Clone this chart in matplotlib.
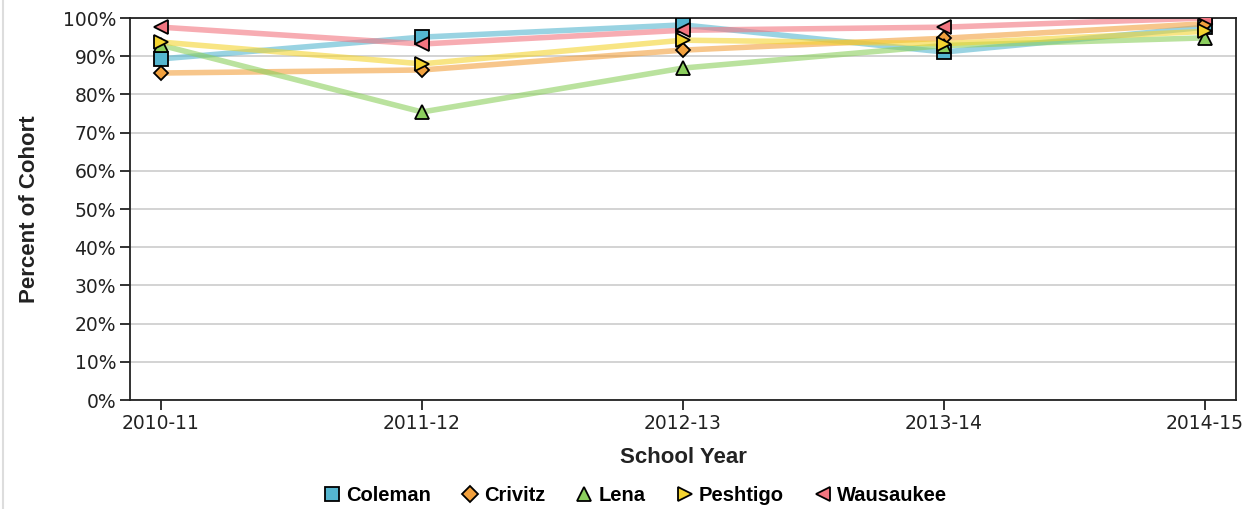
import matplotlib.pyplot as plt
from matplotlib.ticker import FuncFormatter

# data
years = ['2010-11', '2011-12', '2012-13', '2013-14', '2014-15']
coleman = [89.3, 95.0, 98.2, 91.1, 97.6]
crivitz = [85.6, 86.4, 91.6, 94.7, 98.5]
lena = [92.9, 75.4, 86.9, 92.8, 94.8]
peshtigo = [93.7, 88.0, 94.2, 93.3, 96.5]
wausaukee = [97.6, 93.2, 96.8, 97.6, 100.0]

series = [
    ('Coleman', coleman, '#55b6d0', 's'),
    ('Crivitz', crivitz, '#f2a13e', 'D'),
    ('Lena', lena, '#8ccf5e', '^'),
    ('Peshtigo', peshtigo, '#f4d430', '>'),
    ('Wausaukee', wausaukee, '#f27580', '<'),
]

fig = plt.figure(figsize=(12.51, 5.09), dpi=100)
ax = fig.add_axes([0.1039, 0.2141, 0.8841, 0.7505])

x = list(range(len(years)))
for name, vals, col, mk in series:
    ax.plot(x, vals, color=col, alpha=0.6, lw=4, zorder=2)
for name, vals, col, mk in series:
    ms = 7.5 if mk == 'D' else 9.5
    ax.plot(x, vals, ls='none', marker=mk, ms=ms, mfc=col, mec='black',
            mew=1.3, zorder=3, label=name)

ax.set_xlim(-0.119, 4.119)
ax.set_ylim(0, 100)
ax.set_yticks(range(0, 101, 10))
ax.yaxis.set_major_formatter(FuncFormatter(lambda v, p: f'{v:.0f}%'))
ax.set_xticks(x)
ax.set_xticklabels(years)
ax.grid(axis='y', color='#cccccc', lw=1.2, zorder=0)
ax.set_axisbelow(True)
for s in ax.spines.values():
    s.set_color('#222222')
    s.set_linewidth(1.3)
ax.tick_params(axis='both', length=7, width=1.3, color='#222222',
               labelsize=13.5, labelcolor='#222222', pad=3)

ax.set_xlabel('School Year', fontsize=16, fontweight='bold',
              family='Liberation Sans', color='#222222', labelpad=10)
ax.set_ylabel('Percent of Cohort', fontsize=16, fontweight='bold',
              family='Liberation Sans', color='#222222', labelpad=16)

leg = fig.legend(loc='center', bbox_to_anchor=(0.508, 0.026), ncol=5,
                 frameon=False, handlelength=0.8, handletextpad=0.3,
                 columnspacing=1.55, borderaxespad=0, markerscale=1.1,
                 prop={'family': 'Liberation Sans', 'weight': 'bold', 'size': 14.5})

# thin grey border on the left edge of the image
fig.add_artist(plt.Line2D([0.002, 0.002], [0, 1], transform=fig.transFigure,
                          color='#dddddd', lw=1.5))

fig.savefig('out.png', dpi=100)
